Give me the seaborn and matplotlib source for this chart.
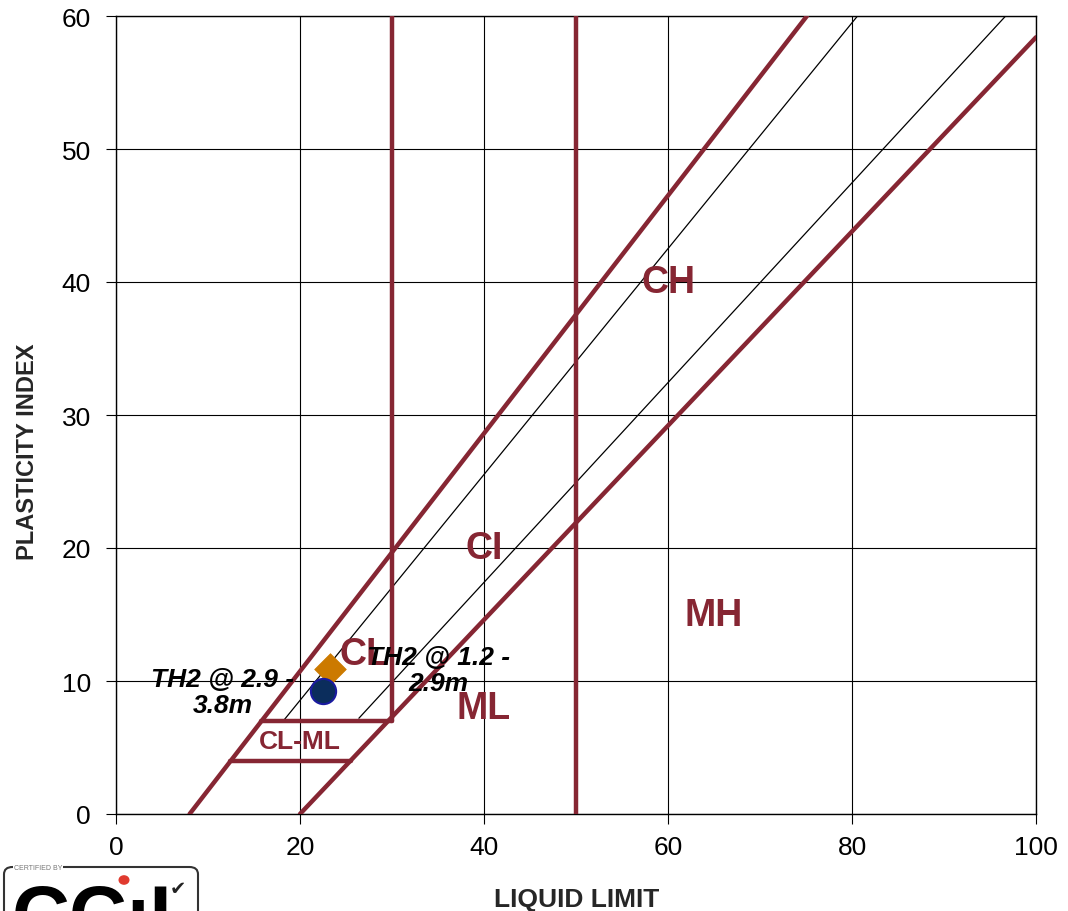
import numpy as np
import pandas as pd
import matplotlib
matplotlib.use("Agg")
import matplotlib.pyplot as plt
from matplotlib.patches import FancyBboxPatch, Circle
import seaborn as sns

# ------------------------------------------------------------
# Plasticity chart data
# ------------------------------------------------------------
# boundary lines (liquid limit, plasticity index)
upper_line_ll = [8.0, 75.1]
upper_line_pi = [0.0, 60.0]
a_line_ll     = [20.0, 100.0]
a_line_pi     = [0.0, 58.4]
ll30_line_ll  = [30.0, 30.0]
ll30_line_pi  = [7.0, 60.0]
ll50_line_ll  = [50.0, 50.0]
ll50_line_pi  = [0.0, 60.0]
pi7_line_ll   = [15.8, 30.0]
pi7_line_pi   = [7.0, 7.0]
pi4_line_ll   = [12.4, 25.5]
pi4_line_pi   = [4.0, 4.0]
# thin guide lines
guide1_ll = [18.3, 80.6]
guide1_pi = [7.1, 60.0]
guide2_ll = [26.4, 96.7]
guide2_pi = [7.2, 60.0]

# zone labels
zone_names = ["CH", "CI", "MH", "ML", "CL"]
zone_ll    = [60.0, 40.0, 65.0, 40.0, 27.0]
zone_pi    = [40.0, 20.0, 15.0, 8.0, 12.0]
clml_name  = "CL-ML"
clml_ll, clml_pi = 20.0, 5.5

# samples
sample_names  = ["TH2 @ 1.2 -\n2.9m", "TH2 @ 2.9 -\n3.8m"]
sample_ll     = [23.3, 22.5]
sample_pi     = [10.9, 9.25]
sample_lbl_ll = [35.0, 11.6]
sample_lbl_pi = [10.8, 9.2]

x_ticks = [0, 20, 40, 60, 80, 100]
y_ticks = [0, 10, 20, 30, 40, 50, 60]

MAROON = "#862633"

sns.set_theme(style="white")
plt.rcParams["font.family"] = ["Liberation Sans", "DejaVu Sans"]

fig = plt.figure(figsize=(10.68, 9.12), dpi=100)
ax = fig.add_axes([116 / 1068, 97 / 912, 920 / 1068, 798 / 912])

# grid
ax.set_xticks(x_ticks)
ax.set_yticks(y_ticks)
ax.grid(True, color="black", linewidth=0.8, zorder=0)
ax.set_axisbelow(True)

# thin guides
for xs, ys in [(guide1_ll, guide1_pi), (guide2_ll, guide2_pi)]:
    sns.lineplot(x=xs, y=ys, ax=ax, color="black", linewidth=0.9,
                 sort=False, estimator=None, zorder=2)

# thick boundaries
thick = [
    (upper_line_ll, upper_line_pi),
    (a_line_ll, a_line_pi),
    (ll30_line_ll, ll30_line_pi),
    (ll50_line_ll, ll50_line_pi),
    (pi7_line_ll, pi7_line_pi),
    (pi4_line_ll, pi4_line_pi),
]
for xs, ys in thick:
    sns.lineplot(x=xs, y=ys, ax=ax, color=MAROON, linewidth=3.2,
                 sort=False, estimator=None, zorder=3)

# zone labels
for name, lx, ly in zip(zone_names, zone_ll, zone_pi):
    ax.text(lx, ly, name, color=MAROON, fontsize=27, fontweight="bold",
            ha="center", va="center", zorder=4)
ax.text(clml_ll, clml_pi, clml_name, color=MAROON, fontsize=19,
        fontweight="bold", ha="center", va="center", zorder=4)

# samples
pts = pd.DataFrame({"ll": sample_ll, "pi": sample_pi, "name": sample_names})
sns.scatterplot(data=pts.iloc[[0]], x="ll", y="pi", ax=ax, marker="D",
                s=260, color="#CC7A00", edgecolor="#CC7A00", linewidth=0.5,
                zorder=5, legend=False)
sns.scatterplot(data=pts.iloc[[1]], x="ll", y="pi", ax=ax, marker="o",
                s=330, color="#0B2D5C", edgecolor="#1A1AA0", linewidth=1.5,
                zorder=6, legend=False)
for name, lx, ly in zip(sample_names, sample_lbl_ll, sample_lbl_pi):
    ax.text(lx, ly, name, fontsize=19, fontweight="bold", fontstyle="italic",
            ha="center", va="center", multialignment="center",
            linespacing=1.1, color="black", zorder=7)

ax.set_xlim(0, 100)
ax.set_ylim(0, 60)
ax.set_xlabel("")
ax.set_ylabel("")
ax.tick_params(axis="both", direction="out", length=7, width=0.8,
               colors="black", labelsize=19, bottom=True, left=True)
ax.tick_params(axis="x", pad=8)
ax.tick_params(axis="y", pad=11)
for sp in ax.spines.values():
    sp.set_color("black")
    sp.set_linewidth(1.0)

fig.text(577 / 1068, 1 - 900 / 912, "LIQUID LIMIT", fontsize=19,
         fontweight="bold", ha="center", va="center")
fig.text(28 / 1068, 1 - 452 / 912, "PLASTICITY INDEX", fontsize=17,
         fontweight="bold", ha="center", va="center", rotation=90)

# certification logo (cut off at bottom edge)
box = FancyBboxPatch((4 / 1068, -0.05), 194 / 1068, 0.05 + (912 - 868) / 912,
                     boxstyle="round,pad=0,rounding_size=0.008",
                     transform=fig.transFigure, facecolor="white",
                     edgecolor="#333333", linewidth=1.5, clip_on=False)
fig.patches.append(box)
fig.text(14 / 1068, 1 - 869 / 912, "CERTIFIED BY", fontsize=5,
         color="#777777", va="center", ha="left",
         bbox=dict(facecolor="white", edgecolor="none", pad=0.5))
fig.text(12 / 1068, 1 - 884 / 912, "CCıL", fontsize=58, fontweight="bold",
         color="black", va="top", ha="left")
fig.patches.append(Circle((124 / 1068, 1 - 881 / 912), 0.0045,
                          transform=fig.transFigure, color="#E03A2E"))
fig.text(178 / 1068, 1 - 890 / 912, "✔", fontsize=14, color="#222222",
         family=["DejaVu Sans"], ha="center", va="center")

fig.savefig("out.png", dpi=100)
